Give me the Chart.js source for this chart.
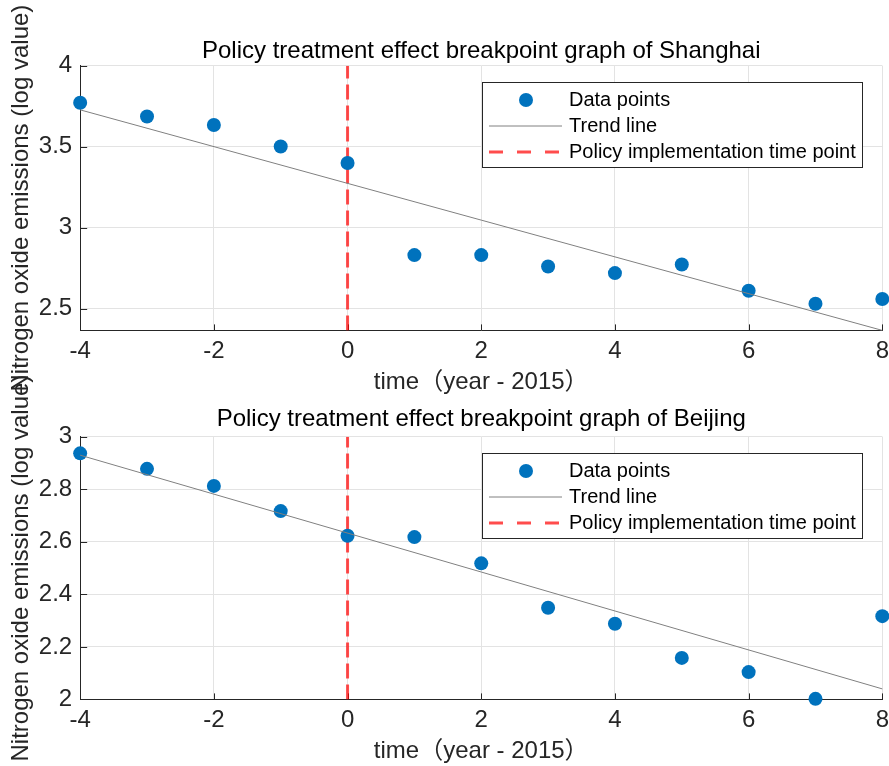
<!DOCTYPE html>
<html>
<head>
<meta charset="utf-8">
<title>Policy treatment effect breakpoint graph</title>
<script src="https://cdn.jsdelivr.net/npm/chart.js@4.4.0/dist/chart.umd.min.js"></script>
<style>
    html, body { margin: 0; padding: 0; background: #fff; overflow: hidden; width: 889px; height: 766px; }
    canvas { position: absolute; left: 0; top: 0; }
</style>
</head>
<body>
<canvas id="grafico-shanghai" width="896" height="800"></canvas>
<canvas id="grafico-beijing" width="896" height="800"></canvas>
<script>
// ================= DADOS =================
const years = [-4, -3, -2, -1, 0, 1, 2, 3, 4, 5, 6, 7, 8];
const shanghaiValues = [3.772, 3.687, 3.634, 3.502, 3.400, 2.831, 2.831, 2.761, 2.720, 2.773, 2.611, 2.531, 2.560];
const beijingValues = [2.937, 2.878, 2.813, 2.717, 2.623, 2.618, 2.518, 2.349, 2.288, 2.158, 2.104, 2.002, 2.317];

const trendYears = [-4, 8];
const shanghaiTrend = [3.728, 2.366];
const beijingTrend = [2.930, 2.040];

const policyYear = 0;

const xTicks = [-4, -2, 0, 2, 4, 6, 8];
const shanghaiYTicks = [2.5, 3, 3.5, 4];
const beijingYTicks = [2, 2.2, 2.4, 2.6, 2.8, 3];
const shanghaiRange = [2.366, 4];
const beijingRange = [2, 3];

const FONTE = "'Liberation Sans', Arial, 'Noto Sans CJK SC', sans-serif";

// ================= PLUGINS =================
// ticks para dentro, como no MATLAB
const ticksInternos = {
    id: "ticksInternos",
    beforeDatasetsDraw(chart) {
        const { ctx, chartArea, scales } = chart;
        ctx.save();
        ctx.strokeStyle = "#262626";
        ctx.lineWidth = 1;
        ctx.beginPath();
        scales.x.ticks.forEach(t => {
            const px = Math.round(scales.x.getPixelForValue(t.value)) + 0.5;
            ctx.moveTo(px, chartArea.bottom);
            ctx.lineTo(px, chartArea.bottom - 6);
        });
        scales.y.ticks.forEach(t => {
            const py = Math.round(scales.y.getPixelForValue(t.value)) + 0.5;
            ctx.moveTo(chartArea.left, py);
            ctx.lineTo(chartArea.left + 7, py);
        });
        ctx.stroke();
        ctx.restore();
    }
};

// legenda dentro da area do grafico
const legendaInterna = {
    id: "legendaInterna",
    afterDatasetsDraw(chart) {
        const { ctx, chartArea } = chart;
        const w = 380, h = 85;
        const x0 = Math.round(chartArea.right - 20 - w);
        const y0 = Math.round(chartArea.top + 16);
        ctx.save();
        ctx.fillStyle = "#fff";
        ctx.fillRect(x0, y0, w, h);
        ctx.strokeStyle = "#262626";
        ctx.lineWidth = 1;
        ctx.strokeRect(x0 + 0.5, y0 + 0.5, w, h);

        chart.data.datasets.forEach((ds, i) => {
            const cy = y0 + 18 + i * 26;
            if (!ds.showLine) {
                ctx.fillStyle = ds.pointBackgroundColor;
                ctx.beginPath();
                ctx.arc(x0 + 44, cy, ds.pointRadius, 0, Math.PI * 2);
                ctx.fill();
            } else {
                ctx.strokeStyle = ds.borderColor;
                ctx.lineWidth = ds.borderWidth;
                ctx.setLineDash(ds.borderDash ? [14, 14] : []);
                ctx.beginPath();
                ctx.moveTo(x0 + 7, cy);
                ctx.lineTo(x0 + 80, cy);
                ctx.stroke();
                ctx.setLineDash([]);
            }
            ctx.fillStyle = "#000";
            ctx.font = "20px " + FONTE;
            ctx.textBaseline = "middle";
            ctx.fillText(ds.label, x0 + 87, cy);
        });
        ctx.restore();
    }
};

// ================= GRAFICO =================
function criarGrafico(id, cfg) {
    const ctx = document.getElementById(id).getContext("2d");
    return new Chart(ctx, {
        type: "scatter",
        data: {
            datasets: [
                {
                    label: "Data points",
                    data: years.map((x, i) => ({ x: x, y: cfg.valores[i] })),
                    showLine: false,
                    pointRadius: 7,
                    pointBackgroundColor: "#0072BD",
                    pointBorderWidth: 0,
                    clip: false,
                    order: 2
                },
                {
                    label: "Trend line",
                    data: trendYears.map((x, i) => ({ x: x, y: cfg.tendencia[i] })),
                    showLine: true,
                    borderColor: "#808080",
                    borderWidth: 1,
                    pointRadius: 0,
                    clip: false,
                    order: 1
                },
                {
                    label: "Policy implementation time point",
                    data: [{ x: policyYear, y: cfg.faixa[0] }, { x: policyYear, y: cfg.faixa[1] }],
                    showLine: true,
                    borderColor: "rgba(255, 0, 0, 0.7)",
                    borderWidth: 3,
                    borderDash: [15, 6],
                    pointRadius: 0,
                    order: 3
                }
            ]
        },
        options: {
            responsive: false,
            animation: false,
            devicePixelRatio: 1,
            layout: { padding: cfg.padding, autoPadding: false },
            plugins: {
                legend: { display: false },
                tooltip: { enabled: false },
                title: {
                    display: true,
                    fullSize: false,
                    text: cfg.titulo,
                    color: "#000",
                    font: { family: FONTE, size: 24, weight: "normal" },
                    padding: { top: 0, bottom: cfg.tituloPad }
                }
            },
            scales: {
                x: {
                    type: "linear",
                    min: xTicks[0],
                    max: xTicks[xTicks.length - 1],
                    afterBuildTicks: s => { s.ticks = xTicks.map(v => ({ value: v })); },
                    grid: { color: "#e3e3e3", drawTicks: false },
                    border: { color: "#262626" },
                    ticks: {
                        color: "#262626",
                        font: { family: FONTE, size: 24 },
                        padding: 7,
                        maxRotation: 0,
                        callback: v => String(v)
                    },
                    title: {
                        display: true,
                        text: "time（year - 2015）",
                        color: "#262626",
                        font: { family: FONTE, size: 24 },
                        padding: { top: -5, bottom: 0 }
                    }
                },
                y: {
                    type: "linear",
                    min: cfg.faixa[0],
                    max: cfg.faixa[1],
                    afterBuildTicks: s => { s.ticks = cfg.yTicks.map(v => ({ value: v })); },
                    grid: { color: "#e3e3e3", drawTicks: false },
                    border: { color: "#262626" },
                    ticks: {
                        color: "#262626",
                        font: { family: FONTE, size: 24 },
                        padding: 8,
                        callback: v => String(+v.toFixed(2))
                    },
                    title: {
                        display: true,
                        text: "Nitrogen oxide emissions (log value)",
                        color: "#262626",
                        font: { family: FONTE, size: 24 },
                        padding: { top: 0, bottom: -5 }
                    }
                }
            }
        },
        plugins: [ticksInternos, legendaInterna]
    });
}

criarGrafico("grafico-shanghai", {
    titulo: "Policy treatment effect breakpoint graph of Shanghai",
    valores: shanghaiValues,
    tendencia: shanghaiTrend,
    faixa: shanghaiRange,
    yTicks: shanghaiYTicks,
    padding: { top: 37, left: 7, right: 0, bottom: 403 },
    tituloPad: 0
});

criarGrafico("grafico-beijing", {
    titulo: "Policy treatment effect breakpoint graph of Beijing",
    valores: beijingValues,
    tendencia: beijingTrend,
    faixa: beijingRange,
    yTicks: beijingYTicks,
    padding: { top: 405, left: 7, right: 0, bottom: 34 },
    tituloPad: 3
});
</script>
</body>
</html>
